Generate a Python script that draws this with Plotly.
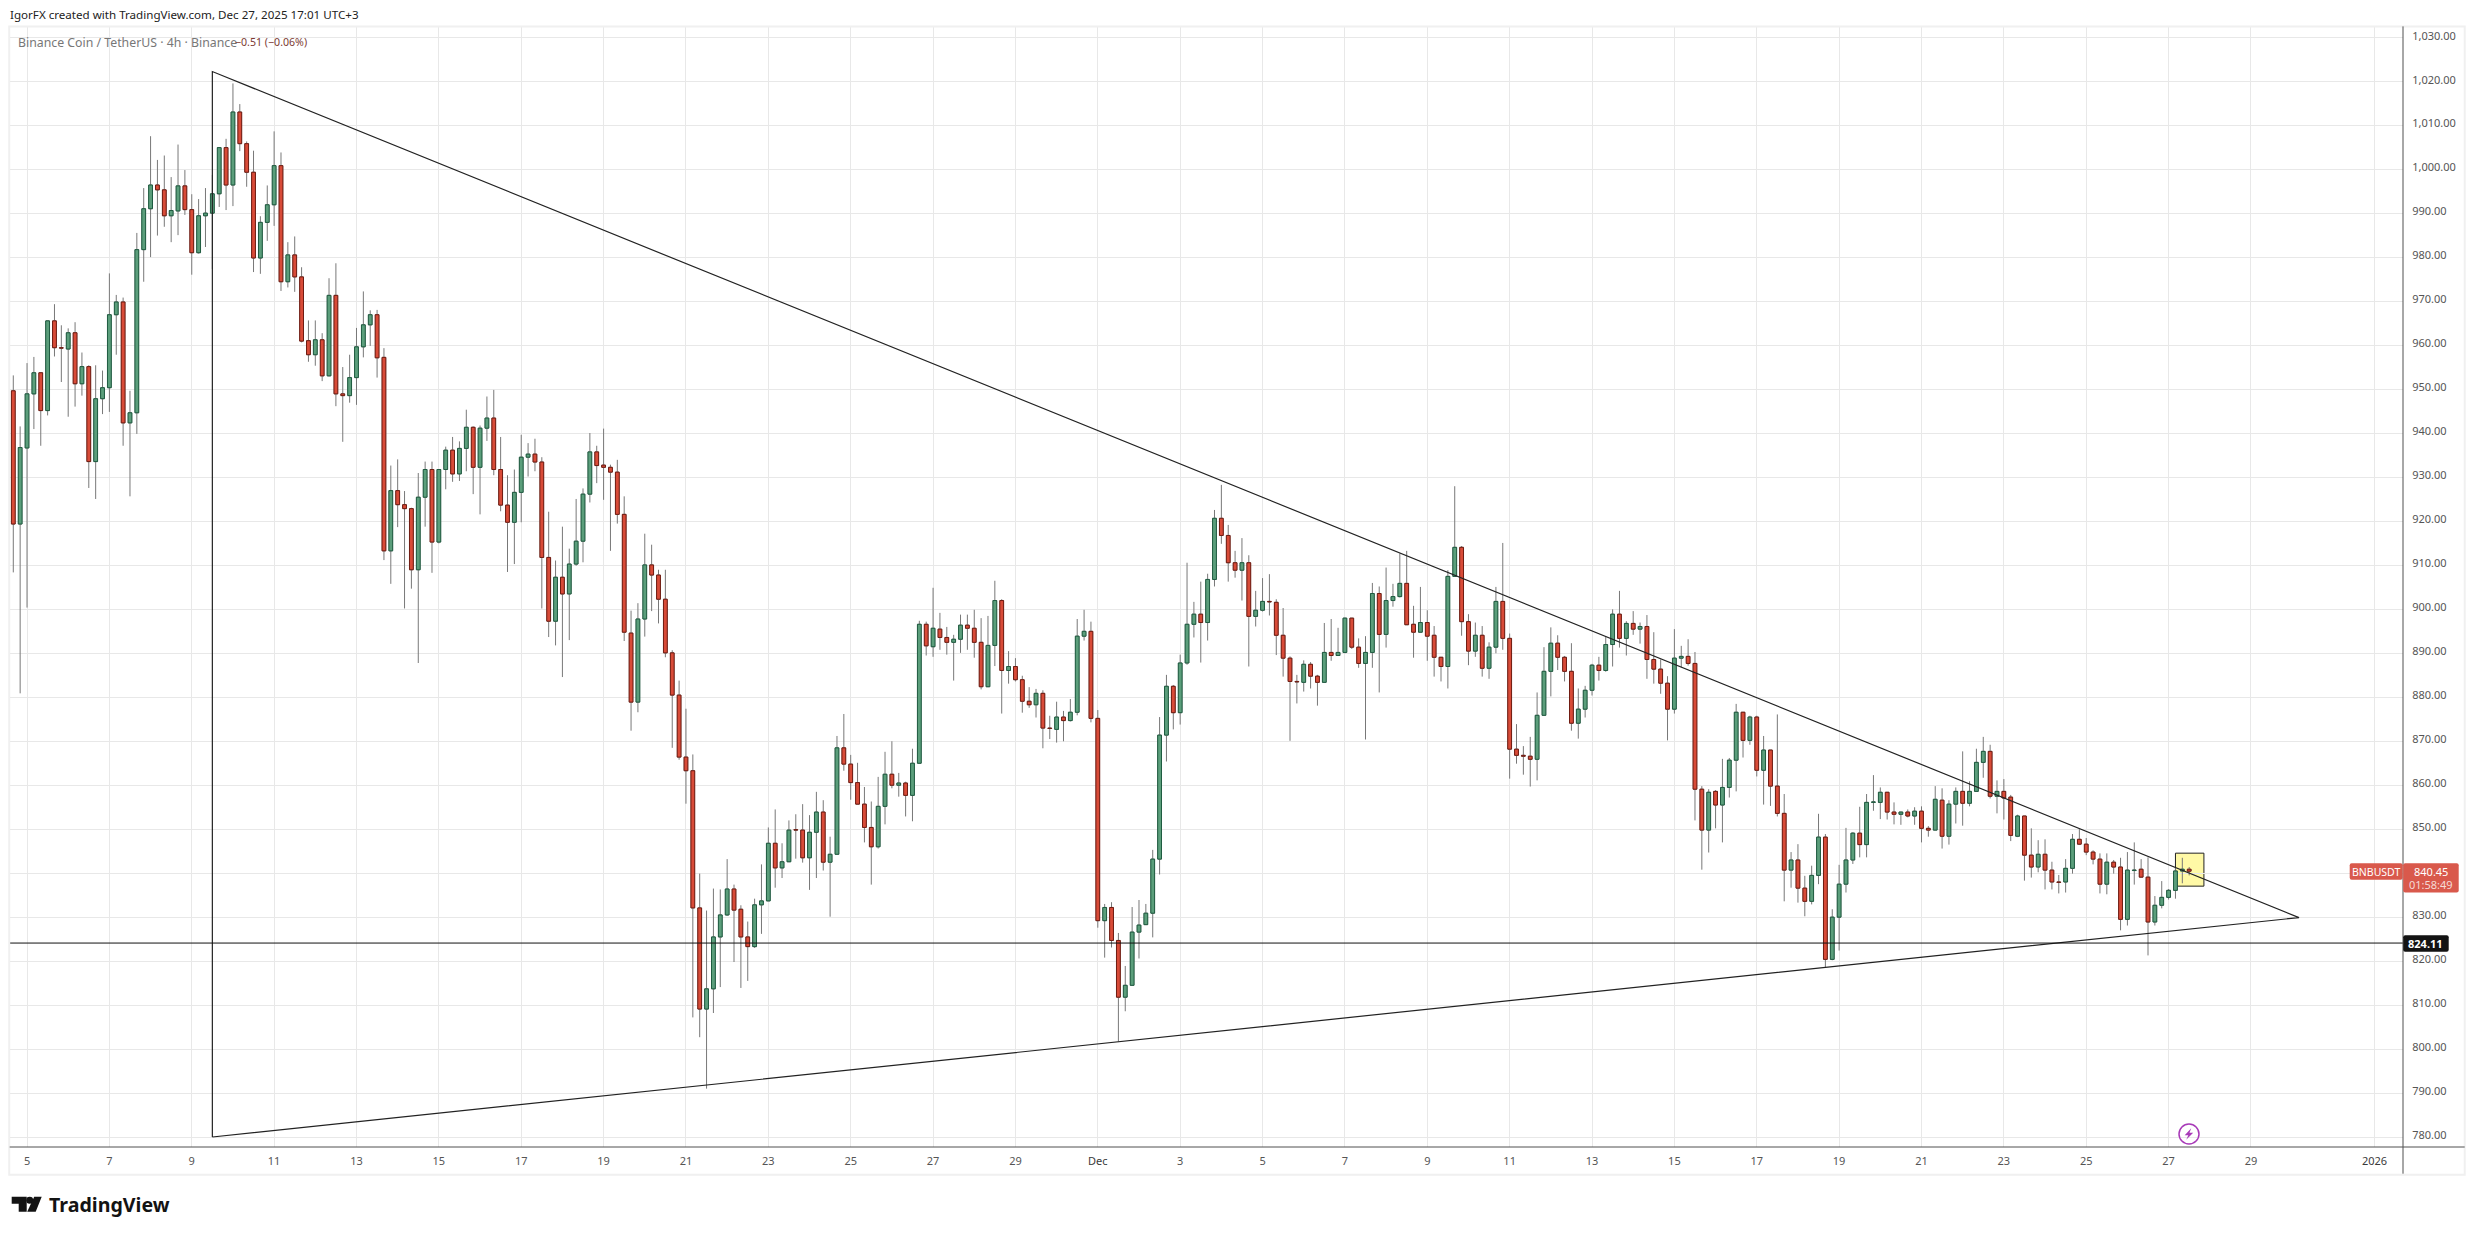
import pandas as pd
import plotly.graph_objects as go

opens = [949.7,919.4,936.7,949,953.8,945.2,965.6,959.5,959.2,962.9,
951.3,955.2,933.6,947.9,950.4,967,969.9,942.4,944.7,981.8,
991.1,996.5,995.4,989.5,990.6,996.3,990.9,981.1,989.5,990.1,
994.5,1005,996.5,1013.1,1005.9,999.4,979.9,988,992,1000.9,
974.5,980.6,975.6,961.1,957.9,961.3,953.1,971.4,949,948.6,
952.7,959.7,964.7,967,957.3,913.3,927,923.8,922.9,909,
925.5,931.8,915.3,931.8,936.2,930.8,936.6,941.4,932.3,941.2,
943.5,931.8,923.7,919.8,926.6,934.6,935.3,933.5,911.8,897.3,
907.3,903.5,910.3,915.5,926.2,935.8,932.8,932.3,931.2,921.6,
894.6,878.9,897.8,910.1,907.8,902.3,890.1,880.5,866.4,863.3,
832.1,809.1,813.7,825.5,830.5,836.4,831.8,825.5,823.3,832.8,
833.7,846.8,841.2,842.6,849.9,849.8,843.5,849.3,853.9,842.5,
844.3,868.5,864.8,860.6,855.7,850.4,846,855.2,862.5,860,
860.5,857.7,865,896.6,891.5,895.5,893.6,892.5,893.2,896.4,
895.7,892.5,882.4,891.8,902,886.1,887,884,879.1,878.3,
880.9,873,872.7,875.5,874.7,876.6,893.9,895,875.2,829.2,
832.2,824.7,811.8,814.5,826.6,828.3,830.9,843.2,871.4,882.5,
876.5,887.8,896.6,898.9,897,906.8,920.7,916.8,910.6,908.9,
910.6,898.4,899.8,901.8,901.6,894.1,888.9,883.6,883.4,887.5,
884.8,883.4,890.2,889.5,890.2,898,891.4,887.7,890.2,903.6,
894.3,902,902.9,905.9,896.6,894.8,897,894.1,889.1,887,
907.5,914.1,897.2,890.5,894.1,886.6,891.4,901.8,893.4,868.2,
866.8,866.6,865.9,875.9,885.9,892.3,889.1,885.9,874.1,877.3,
881.6,887.3,886.1,892,898.9,893.4,896.8,895.5,896.1,888.6,
886.4,883.2,877.3,888.9,889.3,887.7,859.1,849.8,858.6,855.5,
859.5,865.7,876.6,870.2,875.5,863.4,868,859.8,853.6,840.7,
843,836.6,833.6,839.5,848.2,820.4,830,837.5,843,849.1,
846.5,856.1,856.1,858.4,853.9,853.4,853.9,853,854.1,850.2,
849.8,856.6,848.4,855.7,858.6,855.9,858.6,865.2,867.7,857.5,
858.6,857.3,848.4,853,844.1,841.4,844.3,840.7,838,838,
841.1,847.7,846.6,844.8,843.2,837.5,842.5,841.4,829.5,840.6,
840.9,839.1,828.9,832.7,834.5,836.1,840.5,840.9]

closes = [919.4,936.8,949,953.8,945.2,965.6,959.5,959.4,962.9,951.3,
955.2,933.6,947.9,950.4,967,969.9,942.4,944.7,981.8,991.1,
996.5,995.4,989.5,990.7,996.3,990.9,981.1,989.5,990.1,994.5,
1005,996.5,1013.1,1005.9,999.4,979.9,988,992,1000.9,974.5,
980.6,975.6,961,957.9,961.3,953.1,971.4,949,948.6,952.7,
959.7,964.7,967,957.2,913.3,927,923.8,922.9,909,925.5,
931.8,915.3,931.8,936.2,930.8,936.6,941.4,932.3,941.2,943.5,
931.8,923.7,919.8,926.6,934.6,935.3,933.5,911.8,897.3,907.3,
903.5,910.3,915.5,926.2,935.8,932.7,932.3,931.2,921.6,894.8,
878.9,897.8,910.1,907.8,902.3,890.1,880.5,866.4,863.3,832.1,
809.1,813.7,825.5,830.5,836.4,831.6,825.5,823.3,832.8,833.7,
846.8,841.2,842.6,849.8,849.8,843.5,849.3,853.9,842.5,844.3,
868.5,864.8,860.6,855.7,850.4,846,855.2,862.5,860,860.5,
857.7,865,896.6,891.7,895.7,893.6,892.5,893.2,896.4,895.7,
892.5,882.4,891.8,902,886.1,887,884,879.1,878.3,880.9,
873,872.9,875.5,874.7,876.6,893.9,895,875.2,829.2,832.2,
824.7,811.8,814.5,826.6,828.2,830.9,843.2,871.4,882.5,876.5,
887.8,896.6,898.9,897,906.8,920.7,916.8,910.6,908.9,910.6,
898.4,899.8,901.8,901.7,894.1,888.9,883.6,883.5,887.5,884.8,
883.4,890.2,889.5,890.2,898,891.4,887.7,890.2,903.6,894.3,
902,902.9,905.9,896.5,894.8,897,893.9,889.1,887,907.5,
914.1,897.2,890.5,894.1,886.6,891.4,901.8,893.4,868.2,866.8,
866.6,865.9,875.9,885.9,892.3,889.1,885.9,874.1,877.3,881.6,
887.3,886.1,892,898.9,893.4,896.8,895.5,896.1,888.6,886.4,
883.2,877.3,888.9,889.3,887.7,859.1,849.8,858.4,855.5,859.5,
865.7,876.6,870.2,875.5,863.4,868,859.8,853.6,840.7,843,
836.6,833.6,839.5,848.2,820.4,830,837.5,843,849.1,846.5,
856.1,856.2,858.4,853.9,853.4,853.9,853,854.1,850.2,849.8,
856.8,848.4,855.7,858.6,855.9,858.6,865.2,867.7,857.5,858.6,
857.1,848.6,853,844.1,841.4,844.3,840.7,838,837.9,841.1,
847.7,846.6,844.8,843.2,837.5,842.5,841.4,829.5,840.7,840.7,
839.1,828.9,832.7,834.5,836.1,840.5,840.9,840.45]

highs = [953.2,941.6,956,957.4,953.8,965.6,969.4,964.6,963.9,965.3,
958.4,955.5,955.5,954.3,976.4,971.5,970.9,949.7,985.6,995.8,
1007.6,1002.2,1003.2,998.3,1005.7,999.9,994.4,993.3,995.8,998.8,
1005,1007,1019.6,1014.9,1006.4,1004.3,989.4,996.4,1008.7,1003.9,
983.5,984.8,977.8,965.7,965.7,962.8,975.3,978.7,955.1,957.9,
964,972.3,968,968.1,959.4,932.7,934.1,926.9,923.1,931,
933.6,933.6,931.8,937,939.2,938.2,945.4,941.6,941.8,948.4,
949.9,939.2,930.5,931.8,939.7,937.8,938.8,934.6,922.2,911.1,
918.8,913.8,925.1,927.5,940.1,937.2,941.1,932.9,934,925.7,
899.7,901.4,917.2,914.7,909,909,890.7,883.8,877.4,867,
839.9,831.5,836.5,836.3,843.2,837.4,832.7,829,834.2,842,
850.4,854.5,846.8,852,853.4,855.7,853.2,858.5,856.6,848.3,
871.2,876.2,866.9,865.1,859.6,856.3,861.9,867.6,870,862.8,
860.8,868.3,897.4,897.2,904.9,899.2,896,894.2,898.8,898.8,
899.9,898,898.5,906.5,902.3,890.5,888.9,884.9,882.3,881.9,
881.6,875.8,879,876.9,879.6,897.8,899.9,897.2,877.1,833,
833.4,826.4,818.9,832.3,833.9,833,845.3,875.5,885.1,882.8,
889.7,910.6,901.7,906.3,908.1,922.6,928.3,919.2,913.3,916.2,
912.3,904.2,907.1,908,902.3,900.3,889.3,885.1,888.4,888,
885.1,896.9,897.8,895.8,898.1,898,893.4,893.9,906,905.2,
909.5,905.8,912.7,913.3,900.8,905.1,899.8,896.2,889.1,908.9,
928,914.4,898.9,897,896.2,892.5,905.1,915.1,894.5,873.9,
868.9,871,881.1,891.4,895.9,894.1,889.4,892.3,882,882.6,
887.6,889.2,893.8,900,904.2,897.3,899.6,897,898.7,894.8,
888.6,884.8,895.5,891.7,893.2,890.3,859.8,859.1,858.9,866,
866.2,878.5,876.6,875.8,875.8,871.2,868,876.1,858,844.8,
846.6,839.4,841.7,853.5,848.9,831.8,841.9,850.3,849.3,855.1,
858,862.3,859.5,858.4,856.1,853.9,854.5,855,855.2,850.7,
859.8,859.3,856.6,859.5,867.7,860.9,868.3,871,869.2,861.1,
861.4,857.8,853.3,853,850.2,847.5,847.7,842.6,839.6,843.2,
848.9,850,848,845.2,844.5,844.5,843,843.5,844.8,847,
843.2,843.6,834.8,838.2,836.4,841.4,843.5,841.4]

lows = [908.4,880.9,900.4,941,937.2,944.1,957.5,951.7,943.8,946.1,
948.6,927.6,925.1,944.4,944.9,957.9,937.2,925.7,939.9,974.5,
980.1,985,987,983.5,985.1,989.7,976.1,980.9,982.4,977.4,
991.5,990.8,991.7,1004.2,996.1,976.7,976.3,983.8,987.2,972.4,
973.2,972.2,960.7,956.3,955.4,951.9,953,946.2,938.1,947,
946.5,957.3,959.9,952.7,911.2,905.8,918.7,900.2,904.7,887.8,
918.8,908.3,915,927.3,929,929.2,931.4,926.2,921.6,938.3,
930.5,922.3,908.5,910.3,919.8,930.2,931.4,900.2,893.7,891.8,
884.6,893,909.9,910.7,924.3,928.7,924.9,913.3,919.5,892.8,
872.4,876.6,893.8,899.6,896.8,889.1,868.5,865.8,855.8,807.2,
802.7,791,808.2,814.1,830.3,819.8,813.9,815.5,823,826.2,
833.7,836.7,838.9,842.6,843.3,842.4,836.2,838.9,840.6,830.1,
844.3,863.3,856.7,855.7,847,837.4,845.6,851.1,859.3,857.4,
852.9,851.8,865,889.5,889.2,890.8,889.7,883.8,890.1,890.8,
889,881.8,882.4,887.1,876.3,883.1,883.6,876.5,877.6,875.4,
868.4,870.5,869.7,870,874.5,875.9,892.9,874.3,827.6,820.8,
823.1,801.7,808.6,814.5,820.6,828.3,825.4,839.7,865.4,872.7,
873.8,887.4,893.6,887.9,892.9,905.2,914.9,906.3,907.2,902,
887,896.1,899.5,898.6,889.6,884.7,870.1,878.6,881.3,882,
878.1,883.4,888.3,889.5,890,891,886.7,870.4,886.7,881.1,
891.3,900.6,902.7,896.5,889,894.8,888.3,884.7,883.6,882,
907.5,894,887.3,889.2,884.7,884.2,890,890.8,861.5,864.9,
862.4,859.7,861.1,875.9,880.2,886.2,883.6,872.4,870.6,875.4,
880.4,883.8,885.8,887,891.3,889.5,894.2,892.2,884.2,883.1,
880.8,870.2,876.3,886.8,887.2,852,840.8,844.7,850.2,847,
857.2,858.6,866.3,869.2,862,855.6,855.3,852.9,833.6,836.7,
833.3,830.2,832.9,837.5,818.6,820.2,822.4,835.6,842.1,843.6,
843.6,854.2,852.3,852.2,851.1,851,852.7,851,847,848.3,
849.8,845.6,846.5,851.3,850.8,855.2,858.6,861.7,857,853.6,
852.2,847.3,848.2,838.3,839,840.2,836.3,836.3,835.4,835.6,
839.9,846.4,844.1,842,835.4,835.2,839.9,827,828.1,837.4,
839.1,821.3,828.1,832,834,834.2,837.7,839.5]

times = pd.date_range("2025-11-04 19:00", periods=len(opens), freq="4h")

tick_dates = ["2025-11-%02d 03:00" % d for d in range(5, 30, 2)] + \
             ["2025-12-01 03:00"] + ["2025-12-%02d 03:00" % d for d in range(3, 30, 2)] + \
             ["2026-01-01 03:00"]
tick_labels = [str(d) for d in range(5, 30, 2)] + ['<span style="color:#3a3a3a">Dec</span>'] + \
              [str(d) for d in range(3, 30, 2)] + ['<span style="color:#3a3a3a">2026</span>']

triangle_times = ["2025-11-09 15:00", "2025-11-09 15:00", "2025-12-30 07:00", "2025-11-09 15:00"]
triangle_prices = [780.0, 1022.3, 829.9, 780.0]
support_level = 824.11
box_times = ["2025-12-27 07:00", "2025-12-27 23:35"]
box_prices = [837.05, 844.55]

X_RANGE = ["2025-11-04 17:05", "2026-01-01 19:36"]
Y_RANGE = [777.73, 1032.43]

W, H = 2475, 1235
L, R, T, B = 10.3, 2403.3, 26.6, 1147.3
GREEN, GREEN_D = "#5b9e7b", "#1f5c41"
RED, RED_D = "#d84b38", "#701c12"
WICK = "#787878"
GRID = "#e8e8e8"
AXIS = "#505050"
TXT = "#555555"
FONT = "Noto Sans"
BODY_WIDTH_MS = 0.56 * 4 * 3600 * 1000


def px(x):
    return (x - L) / (R - L)


def py(y):
    return (B - y) / (B - T)


def path(pts, close=True):
    s = "M" + " L".join("%.5f,%.5f" % (px(a), py(b)) for a, b in pts)
    return s + (" Z" if close else "")


def rrect(x0, y0, x1, y1, r, fill):
    d = ("M%.5f,%.5f L%.5f,%.5f Q%.5f,%.5f %.5f,%.5f L%.5f,%.5f Q%.5f,%.5f %.5f,%.5f "
         "L%.5f,%.5f Q%.5f,%.5f %.5f,%.5f L%.5f,%.5f Q%.5f,%.5f %.5f,%.5f Z") % (
        px(x0 + r), py(y0), px(x1 - r), py(y0), px(x1), py(y0), px(x1), py(y0 + r),
        px(x1), py(y1 - r), px(x1), py(y1), px(x1 - r), py(y1),
        px(x0 + r), py(y1), px(x0), py(y1), px(x0), py(y1 - r),
        px(x0), py(y0 + r), px(x0), py(y0), px(x0 + r), py(y0))
    return dict(type="path", xref="paper", yref="paper", path=d, fillcolor=fill, line_width=0)


def label(x, y, text, size=11, color=TXT, anchor="left", family=FONT):
    pad = 2 if anchor == "left" else 0
    return dict(xref="paper", yref="paper", x=px(x - pad), y=py(y), text=text, showarrow=False,
                xanchor=anchor, yanchor="middle", align=anchor,
                font=dict(size=size, color=color, family=family))


fig = go.Figure()
# wicks on the base subplot
fig.add_trace(go.Candlestick(
    x=times, open=opens, high=highs, low=lows, close=closes,
    increasing=dict(line=dict(color=WICK, width=1), fillcolor=WICK),
    decreasing=dict(line=dict(color=WICK, width=1), fillcolor=WICK),
    hoverinfo="skip", showlegend=False))
# bodies and drawings on an overlaid price axis, so that they sit above the wicks
is_up = [c >= o for o, c in zip(opens, closes)]
fig.add_trace(go.Bar(
    x=times, yaxis="y2",
    base=[min(o, c) for o, c in zip(opens, closes)],
    y=[abs(c - o) for o, c in zip(opens, closes)],
    width=BODY_WIDTH_MS,
    marker=dict(color=[GREEN if u else RED for u in is_up],
                line=dict(color=[GREEN_D if u else RED_D for u in is_up], width=1)),
    hoverinfo="skip", showlegend=False))
fig.add_trace(go.Scatter(x=triangle_times, y=triangle_prices, mode="lines", yaxis="y2",
                         line=dict(color="#222222", width=1.2), hoverinfo="skip", showlegend=False))
fig.add_trace(go.Scatter(x=X_RANGE, y=[support_level, support_level], mode="lines", yaxis="y2",
                         line=dict(color="#111111", width=1), hoverinfo="skip", showlegend=False))

shapes = [
    dict(type="rect", xref="x", yref="y", layer="below", x0=box_times[0], x1=box_times[1],
         y0=box_prices[0], y1=box_prices[1], fillcolor="#fff9a6", line=dict(color="#222222", width=1)),
    # outer frame and axis rules
    dict(type="rect", xref="paper", yref="paper", x0=px(9.5), x1=px(2465), y0=py(1175), y1=py(26),
         line=dict(color="#f0f0f0", width=2), fillcolor="rgba(0,0,0,0)"),
    dict(type="line", xref="paper", yref="paper", x0=px(10), x1=px(2465), y0=py(1147.3), y1=py(1147.3),
         line=dict(color=AXIS, width=1)),
    dict(type="line", xref="paper", yref="paper", x0=1, x1=1, y0=py(1174), y1=py(26),
         line=dict(color=AXIS, width=1)),
    # price tags
    rrect(2350, 863.3, 2403, 880, 2, "#d9594c"),
    rrect(2403.5, 863.3, 2459, 892.7, 2, "#d9594c"),
    rrect(2403.5, 935.3, 2449, 952, 2, "#131313"),
    # alert marker
    dict(type="circle", xref="paper", yref="paper", x0=px(2179.3), x1=px(2199.3), y0=py(1144.3), y1=py(1124.3),
         line=dict(color="#a83ab8", width=1.5), fillcolor="rgba(255,255,255,0)"),
    dict(type="path", xref="paper", yref="paper", line_width=0, fillcolor="#a83ab8",
         path=path([(2191.5, 1128.5), (2185, 1135.5), (2188.6, 1135.5), (2186.5, 1140),
                    (2193.5, 1133), (2189.8, 1133)])),
    # TradingView mark
    dict(type="path", xref="paper", yref="paper", line_width=0, fillcolor="#131313",
         path=path([(12, 1197), (27, 1197), (27, 1212), (19, 1212), (19, 1204), (12, 1204)])),
    dict(type="circle", xref="paper", yref="paper", line_width=0, fillcolor="#131313",
         x0=px(26.5), x1=px(33.5), y0=py(1204), y1=py(1197)),
    dict(type="path", xref="paper", yref="paper", line_width=0, fillcolor="#131313",
         path=path([(34.5, 1197), (42, 1197), (36, 1212), (27.5, 1212)])),
]

annotations = [
    label(10, 14, "IgorFX created with TradingView.com, Dec 27, 2025 17:01 UTC+3", 11.6, "#222222"),
    label(18, 42, "Binance Coin / TetherUS · 4h · Binance", 12.3, "#777777"),
    label(235, 42, "−0.51 (−0.06%)", 10.6, "#7c3a33"),
    label(2376.5, 871.8, "BNBUSDT", 10.5, "#ffffff", "center"),
    label(2431, 871.5, "840.45", 11, "#ffffff", "center"),
    label(2431, 885, "01:58:49", 11, "#f5d9d6", "center"),
    label(2426, 943.8, "<b>824.11</b>", 11, "#ffffff", "center"),
    label(49, 1205, "<b>TradingView</b>", 19.6, "#131313"),
]

fig.update_layout(
    width=W, height=H, autosize=False,
    margin=dict(l=L, r=W - R, t=T, b=H - B, autoexpand=False),
    paper_bgcolor="#ffffff", plot_bgcolor="#ffffff",
    showlegend=False, shapes=shapes, annotations=annotations, barmode="overlay",
    font=dict(family=FONT, size=11, color=TXT),
    xaxis=dict(type="date", range=X_RANGE, rangeslider=dict(visible=False),
               tickmode="array", tickvals=tick_dates, ticktext=tick_labels, tickangle=0,
               showgrid=True, gridcolor=GRID, gridwidth=1, zeroline=False, showline=False,
               ticks="outside", ticklen=4, tickcolor="rgba(0,0,0,0)",
               tickfont=dict(size=11, color=TXT, family=FONT)),
    yaxis=dict(side="right", range=Y_RANGE, tick0=780, dtick=10, tickformat=",.2f",
               showgrid=True, gridcolor=GRID, gridwidth=1, zeroline=False, showline=False,
               ticks="outside", ticklen=6, tickcolor="rgba(0,0,0,0)", ticklabelshift=-2,
               tickfont=dict(size=11, color=TXT, family=FONT)),
    yaxis2=dict(overlaying="y", side="right", range=Y_RANGE, visible=False, showgrid=False, zeroline=False),
)

fig.write_html("out.html", config=dict(displayModeBar=False),
               post_script="document.body.style.margin='0';document.body.style.overflow='hidden';")
